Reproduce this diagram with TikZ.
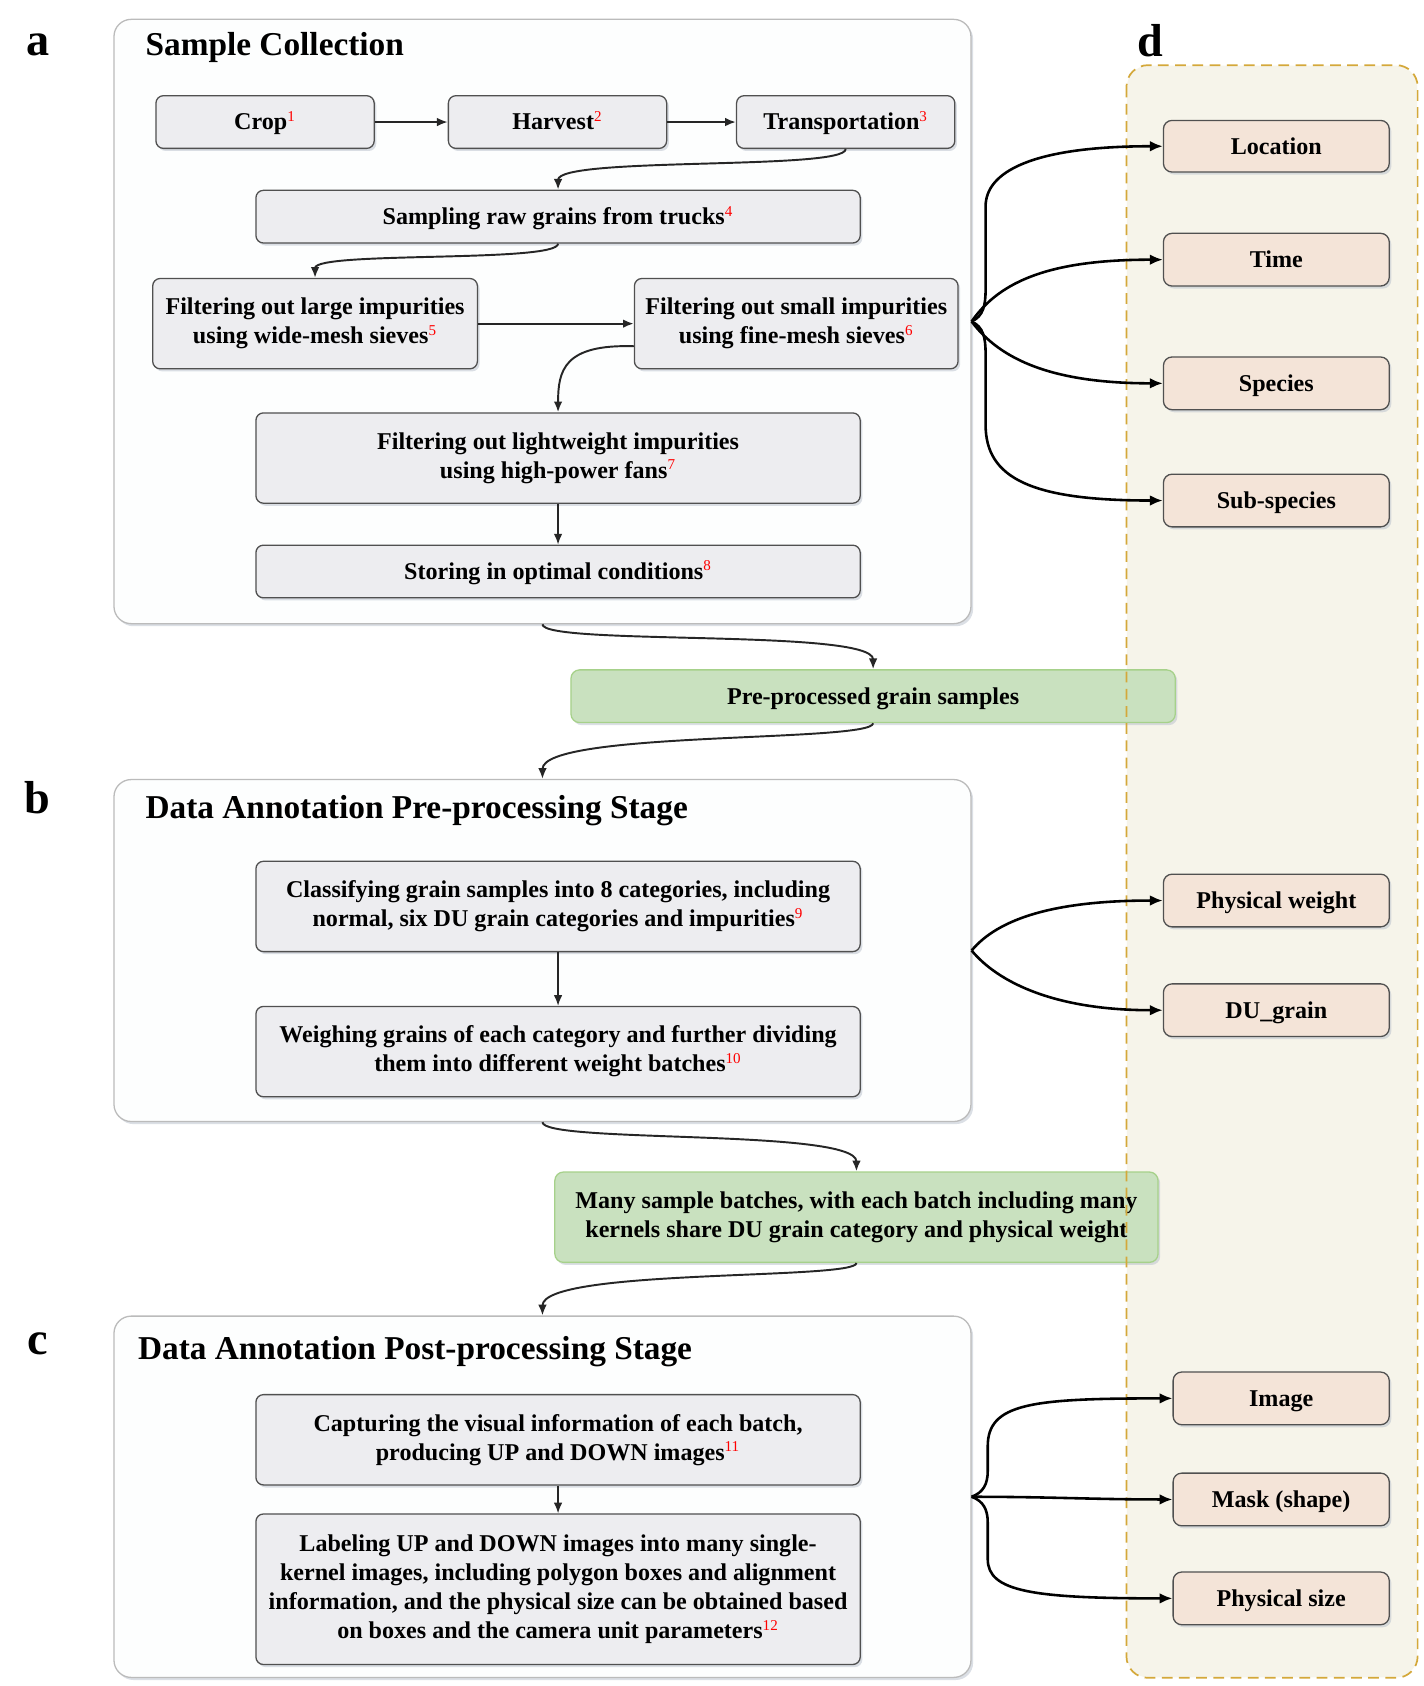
\documentclass[tikz,border=0pt]{standalone}
\usepackage{fontspec}
\setmainfont{Liberation Serif}
\usetikzlibrary{arrows.meta,calc,shadows}
\definecolor{gfill}{HTML}{EDEDF0}
\definecolor{gdraw}{HTML}{505050}
\definecolor{grfill}{HTML}{C9E1BF}
\definecolor{grdraw}{HTML}{A6D18A}
\definecolor{pfill}{HTML}{F4E4D8}
\definecolor{pdfill}{HTML}{F6F4EA}
\definecolor{pddraw}{HTML}{D4A83A}
\definecolor{panfill}{HTML}{FDFEFE}
\definecolor{pandraw}{HTML}{BBBBBB}
\definecolor{shcol}{HTML}{B8C0CC}
\newcommand{\sref}[1]{\textsuperscript{\normalfont\fontsize{7pt}{8pt}\selectfont\color{red}#1}}
\begin{document}
\begin{tikzpicture}[x=0.5pt,y=-0.5pt,
  font=\fontsize{11.2pt}{13.5pt}\selectfont\bfseries,
  shd/.style={drop shadow={shadow xshift=1pt,shadow yshift=-1.2pt,fill=shcol,opacity=0.5}},
  panel/.style={draw=pandraw,fill=panfill,rounded corners=8pt,line width=0.6pt,inner sep=0pt,shd},
  gbox/.style={draw=gdraw,fill=gfill,rounded corners=3.5pt,line width=0.6pt,align=center,inner sep=2pt,shd},
  greenbox/.style={draw=grdraw,fill=grfill,rounded corners=4pt,line width=0.6pt,align=center,inner sep=2pt,shd},
  pbox/.style={draw=gdraw,fill=pfill,rounded corners=4pt,line width=0.6pt,align=center,inner sep=2pt,shd},
  oneline/.style={text height=9pt,text depth=1.6pt},
  dpanel/.style={fill=pdfill,rounded corners=10pt,inner sep=0pt},
  dborder/.style={draw=pddraw,dash pattern=on 5pt off 3pt,rounded corners=10pt,line width=0.8pt},
  conn/.style={-{Latex[length=5pt,width=4pt]},line width=0.9pt,black!85},
  vconn/.style={-{Latex[length=5pt,width=4pt]},line width=0.7pt,black!85},
  fork/.style={-{Latex[length=6pt,width=5pt]},line width=1.2pt},
  lbl/.style={font=\fontsize{21.5pt}{24pt}\selectfont\bfseries},
  ttl/.style={anchor=west,inner sep=0pt,font=\fontsize{15.5pt}{18pt}\selectfont\bfseries}]
\useasboundingbox (0,0) rectangle (1324,1568);
\fill[white] (0,0) rectangle (1324,1568);

% panel d background
\node[dpanel,minimum width=135pt,minimum height=749.5pt] (pd) at (1183,810.5) {};

% panels
\node[panel,minimum width=398.5pt,minimum height=281pt] (pa) at (504.5,299) {};
\node[panel,minimum width=398.5pt,minimum height=159pt] (pb) at (504.5,884) {};
\node[panel,minimum width=398.5pt,minimum height=168pt] (pc) at (504.5,1392) {};

% labels and titles
\node[lbl] (la) at (35,42) {a};
\node[lbl] (lb) at (35,742) {b};
\node[lbl] (lc) at (35,1250) {c};
\node[lbl] (ld) at (1070,38) {d};
\node[ttl] (ta) at (135,44) {Sample Collection};
\node[ttl] (tb) at (135,754) {Data Annotation Pre-processing Stage};
\node[ttl] (tc) at (128,1257) {Data Annotation Post-processing Stage};

% panel a boxes
\node[gbox,oneline,minimum width=101.5pt,minimum height=24.5pt] (crop) at (246.5,113.5) {Crop\sref{1}};
\node[gbox,oneline,minimum width=101.5pt,minimum height=24.5pt] (harv) at (518.5,113.5) {Harvest\sref{2}};
\node[gbox,oneline,minimum width=101.5pt,minimum height=24.5pt] (trans) at (786.5,113.5) {Transportation\sref{3}};
\node[gbox,oneline,minimum width=281pt,minimum height=24.5pt] (samp) at (519,201.5) {Sampling raw grains from trucks\sref{4}};
\node[gbox,minimum width=151pt,minimum height=42pt] (large) at (293,301) {Filtering out large impurities\\using wide-mesh sieves\sref{5}};
\node[gbox,minimum width=150.5pt,minimum height=42pt] (small) at (740.5,301) {Filtering out small impurities\\using fine-mesh sieves\sref{6}};
\node[gbox,minimum width=281pt,minimum height=42pt] (light) at (519,426) {Filtering out lightweight impurities\\using high-power fans\sref{7}};
\node[gbox,oneline,minimum width=281pt,minimum height=24.5pt] (store) at (519,531.5) {Storing in optimal conditions\sref{8}};

% green boxes
\node[greenbox,oneline,minimum width=281pt,minimum height=24.5pt] (g1) at (812,647.5) {Pre-processed grain samples};
\node[greenbox,minimum width=280.5pt,minimum height=42pt] (g2) at (796.5,1132) {Many sample batches, with each batch including many\\kernels share DU grain category and physical weight};

% panel b boxes
\node[gbox,minimum width=281pt,minimum height=42pt] (cls) at (519,843) {Classifying grain samples into 8 categories, including\\normal, six DU grain categories and impurities\sref{9}};
\node[gbox,minimum width=281pt,minimum height=42pt] (wgh) at (519,978) {Weighing grains of each category and further dividing\\them into different weight batches\sref{10}};

% panel c boxes
\node[gbox,minimum width=281pt,minimum height=42pt] (cap) at (519,1339) {Capturing the visual information of each batch,\\producing UP and DOWN images\sref{11}};
\node[gbox,minimum width=281pt,minimum height=70pt] (lab) at (519,1478) {Labeling UP and DOWN images into many single-\\kernel images, including polygon boxes and alignment\\information, and the physical size can be obtained based\\on boxes and the camera unit parameters\sref{12}};

% panel d border on top
\draw[dborder] (pd.north west) rectangle (pd.south east);

% panel d boxes
\node[pbox,oneline,minimum width=105pt,minimum height=24pt] (loc) at (1187,136) {Location};
\node[pbox,oneline,minimum width=105pt,minimum height=24.5pt] (time) at (1187,241.5) {Time};
\node[pbox,oneline,minimum width=105pt,minimum height=24.5pt] (spec) at (1187,356.5) {Species};
\node[pbox,oneline,minimum width=105pt,minimum height=24.5pt] (sub) at (1187,465.5) {Sub-species};
\node[pbox,oneline,minimum width=105pt,minimum height=24.5pt] (pw) at (1187,837.5) {Physical weight};
\node[pbox,oneline,minimum width=105pt,minimum height=24.5pt] (du) at (1187,939.5) {DU\_grain};
\node[pbox,oneline,minimum width=100.5pt,minimum height=24.5pt] (img) at (1191.5,1300.5) {Image};
\node[pbox,oneline,minimum width=100.5pt,minimum height=24.5pt] (mask) at (1191.5,1394.5) {Mask (shape)};
\node[pbox,oneline,minimum width=100.5pt,minimum height=24.5pt] (psz) at (1191.5,1486.5) {Physical size};

% connectors panel a
\draw[conn] (crop) -- (harv);
\draw[conn] (harv) -- (trans);
\draw[conn] (trans.south) .. controls ($(trans.south)+(0,20)$) and ($(samp.north)+(0,-31)$) .. (samp.north);
\draw[conn] (samp.south) .. controls ($(samp.south)+(0,18)$) and ($(large.north)+(0,-25)$) .. (large.north);
\draw[conn] (large) -- (small);
\draw[conn] ($(small.west)+(0,21)$) .. controls ($(small.west)+(-65,19)$) and ($(light.north)+(0,-39)$) .. (light.north);
\draw[vconn] (light) -- (store);

% between panels
\draw[conn] (pa.south) .. controls ($(pa.south)+(0,20)$) and ($(g1.north)+(0,-38)$) .. (g1.north);
\draw[conn] (g1.south) .. controls ($(g1.south)+(0,18)$) and ($(pb.north)+(0,-45)$) .. (pb.north);
\draw[vconn] (cls) -- (wgh);
\draw[conn] (pb.south) .. controls ($(pb.south)+(0,20)$) and ($(g2.north)+(0,-40)$) .. (g2.north);
\draw[conn] (g2.south) .. controls ($(g2.south)+(0,16)$) and ($(pc.north)+(0,-44)$) .. (pc.north);
\draw[vconn] (cap) -- (lab);

% fork a
\coordinate (fa) at (pa.east);
\draw[fork] (fa) .. controls ($(fa)+(11,-5)$) and ($(fa)+(13,-15)$) .. ($(fa)+(13,-30)$) -- ($(fa)+(13,-107)$) .. controls ($(fa)+(13,-139)$) and ($(loc.west)+(-122,0)$) .. (loc.west);
\draw[fork] (fa) .. controls ($(fa)+(27,-39)$) and ($(time.west)+(-102,0)$) .. (time.west);
\draw[fork] (fa) .. controls ($(fa)+(27,36)$) and ($(spec.west)+(-102,0)$) .. (spec.west);
\draw[fork] (fa) .. controls ($(fa)+(11,5)$) and ($(fa)+(13,15)$) .. ($(fa)+(13,30)$) -- ($(fa)+(13,96)$) .. controls ($(fa)+(13,146)$) and ($(sub.west)+(-122,0)$) .. (sub.west);

% fork b
\coordinate (fb) at (pb.east);
\draw[fork] (fb) .. controls ($(fb)+(25,-30)$) and ($(pw.west)+(-100,0)$) .. (pw.west);
\draw[fork] (fb) .. controls ($(fb)+(25,30)$) and ($(du.west)+(-100,0)$) .. (du.west);

% fork c
\coordinate (fc) at (pc.east);
\draw[fork] (fc) .. controls ($(fc)+(11,-4)$) and ($(fc)+(15,-12)$) .. ($(fc)+(15,-24)$) -- ($(fc)+(15,-47)$) .. controls ($(fc)+(15,-87)$) and ($(img.west)+(-131,0)$) .. (img.west);
\draw[fork] (fc) to[out=0,in=180] (mask.west);
\draw[fork] (fc) .. controls ($(fc)+(11,4)$) and ($(fc)+(15,12)$) .. ($(fc)+(15,24)$) -- ($(fc)+(15,58)$) .. controls ($(fc)+(15,88)$) and ($(psz.west)+(-131,0)$) .. (psz.west);
\end{tikzpicture}
\end{document}
